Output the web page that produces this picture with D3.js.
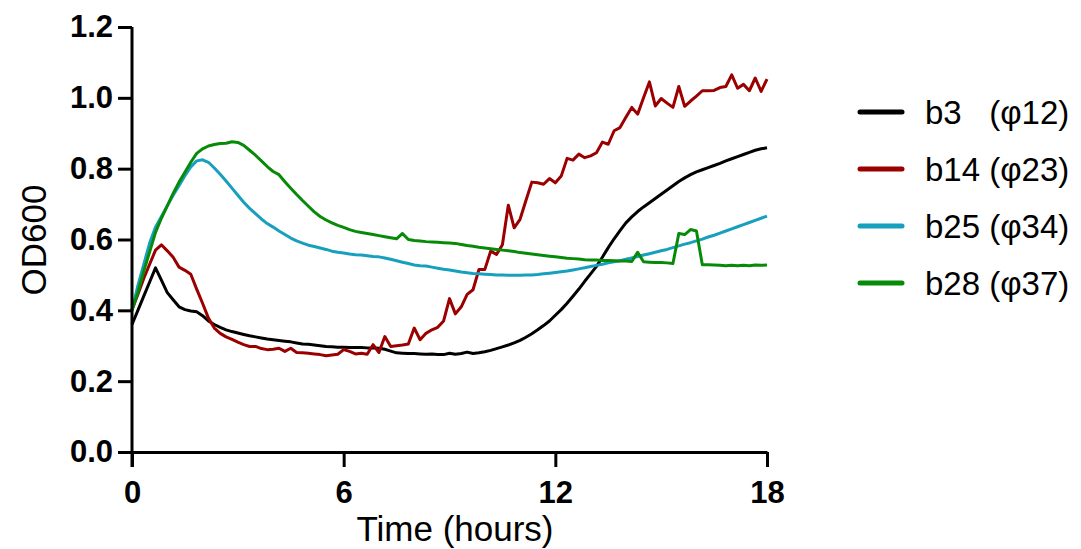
<!DOCTYPE html>
<html>
<head>
<meta charset="utf-8">
<script src="https://cdn.jsdelivr.net/npm/d3@7/dist/d3.min.js"></script>
<style>
  body { margin: 0; background: #fff; }
  svg { display: block; font-family: "Liberation Sans", Arial, sans-serif; }
</style>
</head>
<body>
<div id="grafico"></div>
<script>
// dados (leituras a cada 10 minutos)
var minutos = [0,10,20,30,40,50,60,70,80,90,100,110,120,130,140,150,160,170,180,190,200,210,220,230,240,250,260,270,280,290,300,310,320,330,340,350,360,370,380,390,400,410,420,430,440,450,460,470,480,490,500,510,520,530,540,550,560,570,580,590,600,610,620,630,640,650,660,670,680,690,700,710,720,730,740,750,760,770,780,790,800,810,820,830,840,850,860,870,880,890,900,910,920,930,940,950,960,970,980,990,1000,1010,1020,1030,1040,1050,1060,1070,1080];

var b3 = [0.36,0.40,0.44,0.48,0.52,0.485,0.45,0.43,0.41,0.402,
  0.398,0.396,0.385,0.370,0.360,0.352,0.345,0.340,0.336,0.332,
  0.328,0.325,0.322,0.319,0.317,0.315,0.313,0.311,0.308,0.305,
  0.304,0.302,0.300,0.298,0.297,0.296,0.296,0.295,0.295,0.295,
  0.294,0.294,0.293,0.290,0.285,0.280,0.279,0.278,0.278,0.277,
  0.276,0.277,0.275,0.275,0.279,0.276,0.278,0.282,0.278,0.280,
  0.283,0.287,0.292,0.297,0.302,0.308,0.315,0.324,0.334,0.345,
  0.357,0.370,0.386,0.402,0.420,0.440,0.460,0.482,0.503,0.524,
  0.550,0.577,0.602,0.625,0.647,0.664,0.679,0.692,0.704,0.716,
  0.728,0.740,0.752,0.764,0.774,0.783,0.791,0.797,0.803,0.809,
  0.815,0.822,0.828,0.834,0.840,0.846,0.852,0.856,0.859];

var b14 = [0.402,0.445,0.49,0.53,0.57,0.585,0.568,0.55,0.522,0.513,
  0.502,0.46,0.42,0.378,0.35,0.335,0.325,0.318,0.31,0.303,
  0.298,0.298,0.292,0.289,0.29,0.293,0.284,0.293,0.281,0.28,
  0.279,0.277,0.275,0.272,0.274,0.276,0.289,0.284,0.277,0.279,
  0.276,0.303,0.281,0.326,0.298,0.300,0.302,0.305,0.35,0.317,
  0.335,0.345,0.352,0.37,0.433,0.39,0.41,0.445,0.458,0.515,
  0.515,0.567,0.558,0.585,0.697,0.633,0.657,0.71,0.762,0.76,
  0.756,0.772,0.76,0.779,0.829,0.824,0.841,0.831,0.836,0.845,
  0.875,0.869,0.907,0.916,0.945,0.973,0.954,1.00,1.045,0.977,
  0.998,0.985,0.973,1.032,0.976,0.991,1.005,1.02,1.02,1.021,
  1.029,1.032,1.065,1.027,1.038,1.02,1.056,1.018,1.053];

var b25 = [0.40,0.47,0.53,0.59,0.635,0.665,0.695,0.725,0.752,0.78,
  0.805,0.822,0.825,0.818,0.802,0.784,0.765,0.745,0.725,0.705,
  0.688,0.673,0.658,0.645,0.635,0.624,0.614,0.604,0.596,0.590,
  0.584,0.580,0.576,0.572,0.567,0.564,0.562,0.559,0.557,0.556,
  0.554,0.552,0.551,0.548,0.544,0.540,0.536,0.532,0.528,0.526,
  0.525,0.522,0.519,0.516,0.514,0.511,0.508,0.506,0.504,0.503,
  0.502,0.501,0.500,0.500,0.499,0.499,0.499,0.500,0.500,0.501,
  0.503,0.505,0.507,0.509,0.511,0.514,0.517,0.520,0.524,0.527,
  0.530,0.534,0.537,0.540,0.544,0.548,0.552,0.556,0.560,0.564,
  0.568,0.572,0.577,0.582,0.587,0.591,0.596,0.601,0.607,0.612,
  0.618,0.624,0.630,0.636,0.642,0.648,0.654,0.660,0.666];

var b28 = [0.40,0.45,0.51,0.565,0.62,0.66,0.695,0.73,0.762,0.79,
  0.818,0.843,0.856,0.864,0.868,0.871,0.872,0.876,0.874,0.866,
  0.852,0.838,0.822,0.806,0.792,0.783,0.763,0.745,0.727,0.710,
  0.694,0.678,0.665,0.655,0.647,0.64,0.634,0.628,0.623,0.620,
  0.617,0.614,0.611,0.608,0.605,0.602,0.617,0.600,0.597,0.596,
  0.594,0.593,0.592,0.591,0.590,0.589,0.586,0.583,0.581,0.578,
  0.576,0.574,0.572,0.570,0.568,0.566,0.563,0.561,0.559,0.557,
  0.555,0.553,0.551,0.549,0.547,0.546,0.545,0.543,0.542,0.542,
  0.541,0.541,0.540,0.539,0.539,0.538,0.564,0.537,0.536,0.535,
  0.535,0.534,0.532,0.617,0.614,0.628,0.624,0.529,0.529,0.528,
  0.527,0.526,0.527,0.526,0.527,0.526,0.528,0.527,0.528];

var nomes = ["b3   (\u03c612)", "b14 (\u03c623)", "b25 (\u03c634)", "b28 (\u03c637)"];
var cores = ["#000000", "#9b0000", "#17a0bd", "#078a07"];
var series = [b3, b14, b25, b28];
var ticksX = [0, 6, 12, 18];
var ticksY = [0, 0.2, 0.4, 0.6, 0.8, 1.0, 1.2];

// dimensões
var width = 1081, height = 549;
var svg = d3.select("#grafico").append("svg")
  .attr("width", width).attr("height", height);

var x = d3.scaleLinear().domain([0, 18]).range([132, 767]);
var y = d3.scaleLinear().domain([0, 1.2]).range([452, 27]);

// linhas
var linha = d3.line()
  .x(function(d, i) { return x(minutos[i] / 60); })
  .y(function(d) { return y(d); });

series.forEach(function(s, j) {
  svg.append("path").datum(s)
    .attr("fill", "none")
    .attr("stroke", cores[j])
    .attr("stroke-width", 3)
    .attr("stroke-linejoin", "round")
    .attr("d", linha);
});

// eixo X
var eixoX = svg.append("g").attr("transform", "translate(0,452)")
  .call(d3.axisBottom(x).tickValues(ticksX).tickSize(15).tickSizeOuter(0).tickPadding(14));
// eixo Y
var eixoY = svg.append("g").attr("transform", "translate(132,0)")
  .call(d3.axisLeft(y).tickValues(ticksY).tickFormat(d3.format(".1f")).tickSize(14).tickSizeOuter(0).tickPadding(5));

[eixoX, eixoY].forEach(function(g) {
  g.selectAll("path, line").attr("stroke", "#000").attr("stroke-width", 3);
  g.selectAll("text").attr("fill", "#000")
    .style("font-size", "31px").style("font-weight", "bold")
    .style("font-family", "'Liberation Sans', Arial, sans-serif");
});
eixoY.select(".domain").attr("d", "M0," + y(1.2) + "V" + (452 + 15));

// títulos
svg.append("text")
  .attr("x", 455).attr("y", 541)
  .attr("text-anchor", "middle")
  .style("font-size", "35px")
  .text("Time (hours)");

svg.append("text")
  .attr("transform", "translate(46,240) rotate(-90)")
  .attr("text-anchor", "middle")
  .style("font-size", "35px")
  .text("OD600");

// legenda
var legenda = svg.append("g");
nomes.forEach(function(n, j) {
  var ly = 112 + j * 57;
  legenda.append("line")
    .attr("x1", 860).attr("x2", 902).attr("y1", ly).attr("y2", ly)
    .attr("stroke", cores[j]).attr("stroke-width", 5)
    .attr("stroke-linecap", "round");
  legenda.append("text")
    .attr("x", 925).attr("y", ly + 12)
    .style("font-size", "33px")
    .style("white-space", "pre")
    .text(n);
});
</script>
</body>
</html>
